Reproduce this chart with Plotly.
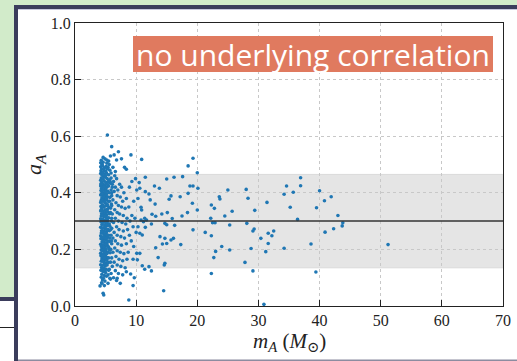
import plotly.graph_objects as go

# ---- data (m_A in solar masses, a_A spin) ----
core_points = [
    (4.3,0.515),(4.6,0.508),(4.9,0.52),(5.2,0.505),(4.4,0.5),(5.5,0.512),
    (4.2,0.492),(4.5,0.496),(4.8,0.488),(5.1,0.494),(5.4,0.49),(4.35,0.485),
    (4.25,0.478),(4.7,0.482),(5.0,0.476),(5.3,0.484),(5.7,0.48),(4.55,0.472),
    (4.2,0.468),(4.45,0.462),(4.9,0.466),(5.15,0.47),(5.5,0.464),(4.7,0.458),
    (4.3,0.452),(4.6,0.448),(4.95,0.455),(5.25,0.45),(5.6,0.446),(5.9,0.452),(4.2,0.444),
    (4.4,0.438),(4.8,0.441),(5.1,0.436),(5.45,0.44),(4.25,0.432),(4.65,0.43),(5.8,0.434),
    (4.2,0.424),(4.55,0.422),(4.9,0.426),(5.2,0.42),(5.5,0.424),(4.35,0.416),(5.0,0.414),(6.1,0.42),
    (4.25,0.408),(4.7,0.41),(5.35,0.406),(4.45,0.402),(4.85,0.398),(5.6,0.4),(5.15,0.396),
    (4.2,0.392),(4.6,0.39),(5.0,0.388),(5.3,0.386),(4.4,0.382),(4.8,0.38),(5.7,0.384),(6.0,0.39),
    (4.3,0.374),(4.65,0.372),(5.1,0.376),(5.45,0.37),(4.2,0.366),(4.95,0.364),(5.25,0.36),(4.5,0.358),
    (4.25,0.352),(4.75,0.35),(5.05,0.354),(5.55,0.348),(4.4,0.344),(4.9,0.34),(5.3,0.342),(5.85,0.346),
    (4.2,0.336),(4.6,0.334),(5.0,0.33),(5.4,0.332),(4.35,0.326),(4.8,0.324),(5.2,0.322),(5.65,0.326),
    (4.3,0.318),(4.7,0.316),(5.1,0.314),(5.5,0.312),(4.2,0.308),(4.55,0.306),(4.95,0.304),(5.35,0.302),(6.0,0.31),
    (4.25,0.298),(4.65,0.296),(5.05,0.294),(5.45,0.29),(4.4,0.288),(4.85,0.286),(5.25,0.284),(5.7,0.282),
    (4.2,0.278),(4.6,0.276),(5.0,0.272),(5.4,0.27),(4.35,0.266),(4.75,0.264),(5.15,0.262),(5.6,0.266),
    (4.3,0.258),(4.7,0.254),(5.1,0.256),(5.5,0.25),(4.2,0.248),(4.55,0.244),(4.9,0.246),(5.3,0.242),(5.9,0.25),
    (4.25,0.238),(4.65,0.236),(5.0,0.234),(5.35,0.23),(4.45,0.226),(4.85,0.224),(5.2,0.222),(5.65,0.228),
    (4.2,0.218),(4.6,0.216),(4.95,0.212),(5.3,0.214),(4.4,0.206),(4.8,0.204),(5.1,0.202),(5.5,0.208),
    (4.3,0.198),(4.7,0.196),(5.05,0.194),(5.4,0.19),(4.2,0.186),(4.55,0.184),(4.9,0.182),(5.75,0.188),
    (4.25,0.178),(4.65,0.174),(5.0,0.176),(5.3,0.17),(4.4,0.166),(4.85,0.164),(5.15,0.162),
    (4.3,0.158),(4.7,0.156),(5.05,0.152),(5.45,0.154),(4.2,0.146),(4.55,0.144),(4.95,0.142),
    (4.35,0.136),(4.75,0.134),(5.1,0.13),(4.25,0.126),(4.6,0.122),(5.0,0.118),(5.5,0.126),
    (4.4,0.112),(4.8,0.108),(4.3,0.102),(4.65,0.098),(5.15,0.105),
    (4.5,0.092),(4.9,0.088),(4.35,0.082),
    (4.5,0.47),(5.0,0.46),(4.3,0.43),(4.75,0.42),(5.3,0.43),(4.55,0.41),(5.0,0.405),(4.3,0.395),
    (4.75,0.385),(5.15,0.38),(4.45,0.37),(4.85,0.368),(5.35,0.355),(4.55,0.355),(4.3,0.34),(5.15,0.338),
    (4.5,0.32),(4.9,0.318),(5.25,0.31),(4.4,0.3),(4.8,0.3),(5.2,0.295),(4.5,0.275),(4.9,0.278),
    (5.25,0.27),(4.45,0.26),(4.85,0.258),(5.2,0.25),(4.35,0.24),(4.75,0.244),(5.1,0.24),(4.5,0.228),
    (4.3,0.212),(4.7,0.21),(5.05,0.218),(4.45,0.196),(4.85,0.19),(5.2,0.185),(4.4,0.175),(4.8,0.17),
    (4.5,0.16),(4.85,0.15),(5.25,0.145),(4.45,0.13),(4.85,0.125),
    (5.3,0.604),(6.0,0.563),(7.1,0.545),(6.4,0.534),(4.6,0.525),(5.2,0.516),(6.8,0.516),(4.2,0.506),
    (6.6,0.475),(4.4,0.08),(4.8,0.072),(4.6,0.045),(5.4,0.08),(5.7,0.098),(6.9,0.098),(4.1,0.071),(4.7,0.039),
    (5.6,0.5),(5.75,0.44),(5.9,0.41),(5.65,0.37),(5.95,0.36),(5.8,0.33),(5.95,0.3),(5.6,0.29),
    (5.85,0.27),(5.7,0.24),(5.95,0.23),(5.6,0.2),(5.85,0.2),(5.5,0.17),(5.8,0.155),(5.6,0.13),(5.4,0.11),
]

spread_points = [
    (5.8,0.53),(6.2,0.49),(6.5,0.46),(5.9,0.47),(6.3,0.44),(6.8,0.45),(7.3,0.43),(6.1,0.43),
    (6.6,0.42),(7.0,0.41),(7.6,0.42),(8.0,0.40),(6.0,0.40),(6.4,0.405),(6.9,0.39),(7.4,0.385),
    (7.8,0.37),(8.4,0.38),(6.2,0.375),(6.7,0.365),(7.1,0.355),(7.6,0.35),(8.2,0.345),(8.8,0.35),
    (6.0,0.355),(6.5,0.34),(6.9,0.33),(7.3,0.325),(7.9,0.32),(8.5,0.31),(9.3,0.32),(6.1,0.325),
    (6.6,0.31),(7.1,0.3),(7.7,0.295),(8.3,0.29),(9.0,0.3),(6.3,0.295),(6.8,0.28),(7.2,0.27),
    (7.9,0.265),(8.6,0.27),(9.5,0.28),(6.0,0.275),(6.4,0.26),(6.9,0.25),(7.5,0.245),(8.1,0.24),
    (8.9,0.25),(6.2,0.24),(6.6,0.23),(7.0,0.22),(7.6,0.215),(8.4,0.22),(9.2,0.23),(6.0,0.22),
    (6.5,0.205),(6.9,0.195),(7.4,0.19),(8.0,0.185),(8.7,0.19),(6.2,0.19),(6.7,0.175),(7.2,0.165),
    (7.8,0.16),(8.5,0.165),(6.0,0.17),(6.4,0.155),(6.9,0.145),(7.5,0.14),(8.2,0.135),(6.1,0.14),
    (6.6,0.125),(7.1,0.115),(7.8,0.11),(5.9,0.115),(6.3,0.1),(5.8,0.095),(6.8,0.09),(7.4,0.08),
    (9.7,0.1),(8.1,0.49),(7.6,0.52),(9.3,0.44),(8.9,0.42),(9.6,0.37),(9.8,0.31),(10.0,0.26),
    (9.6,0.21),(10.3,0.38),(9.9,0.45),
]

outer_points = [
    (9.15,0.534),(10.9,0.518),(8.4,0.483),(18.5,0.495),(19.3,0.522),(11.5,0.455),(15.0,0.449),
    (16.2,0.455),(17.6,0.457),(10.5,0.436),(13.0,0.424),(13.8,0.416),(10.1,0.41),(10.6,0.416),
    (11.5,0.404),(12.1,0.396),(15.7,0.389),(15.4,0.377),(17.2,0.386),(18.5,0.398),(18.8,0.424),
    (19.3,0.424),(12.3,0.375),(13.1,0.36),(10.8,0.349),(10.9,0.339),(14.2,0.325),(15.1,0.33),
    (15.9,0.309),(17.5,0.318),(18.4,0.33),(12.6,0.324),(13.2,0.317),(11.4,0.31),(11.7,0.304),
    (10.8,0.304),(11.2,0.298),(14.7,0.292),(15.0,0.287),(16.3,0.285),(19.3,0.269),(10.3,0.28),
    (11.5,0.278),(12.5,0.29),(10.6,0.257),(11.0,0.251),(13.9,0.245),(14.7,0.239),(16.1,0.239),
    (15.7,0.233),(15.0,0.221),(14.3,0.219),(17.3,0.217),(13.2,0.206),(10.1,0.186),(10.6,0.186),
    (13.6,0.171),(9.5,0.165),(10.2,0.163),(14.7,0.151),(14.6,0.145),(11.0,0.142),(12.1,0.139),
    (11.4,0.13),(12.5,0.124),(8.4,0.121),(9.1,0.113),(9.5,0.072),(14.5,0.054),(8.8,0.021),
    (20.0,0.471),(20.1,0.416),(25.0,0.41),(28.0,0.412),(23.6,0.386),(23.7,0.378),(28.3,0.381),
    (31.4,0.366),(19.2,0.363),(22.3,0.357),(22.8,0.345),(20.0,0.339),(25.7,0.335),(29.4,0.338),
    (24.5,0.318),(22.2,0.31),(22.5,0.294),(22.9,0.294),(25.3,0.286),(28.1,0.292),(29.3,0.272),
    (29.1,0.265),(21.3,0.26),(31.6,0.257),(32.2,0.248),(32.5,0.265),(22.3,0.248),(30.4,0.239),
    (31.6,0.221),(24.0,0.21),(28.8,0.203),(25.3,0.198),(23.0,0.193),(31.2,0.192),(22.7,0.171),
    (27.8,0.154),(29.1,0.124),(22.3,0.115),(30.9,0.006),
    (36.9,0.453),(34.6,0.424),(36.9,0.425),(35.7,0.402),(34.2,0.395),(40.0,0.407),(41.9,0.386),
    (40.8,0.372),(35.2,0.349),(39.5,0.347),(43.0,0.32),(36.4,0.306),(43.8,0.294),(43.7,0.283),
    (42.3,0.273),(40.9,0.261),(38.6,0.219),(34.2,0.204),(39.4,0.12),(51.2,0.217),
]

mean_spin = 0.3
band_low, band_high = 0.135, 0.465
x_ticks = [0, 10, 20, 30, 40, 50, 60, 70]
y_ticks = [0.0, 0.2, 0.4, 0.6, 0.8, 1.0]
y_tick_labels = ["0.0", "0.2", "0.4", "0.6", "0.8", "1.0"]
label_text = "no underlying correlation"

all_points = core_points + spread_points + outer_points
mass = [p[0] for p in all_points]
spin = [p[1] for p in all_points]

# ---- layout geometry (pixels) ----
W, H = 517, 361
L, R, T, B = 75, 503, 23, 306


def px(X):
    return (X - L) / (R - L)


def py(Y):
    return (B - Y) / (B - T)


GREEN = "#d2ebca"
NAVY = "#3b3d5c"

fig = go.Figure()
fig.add_trace(go.Scatter(
    x=mass, y=spin, mode="markers",
    marker=dict(size=3.6, color="#1f77b4", line=dict(width=0)),
    hoverinfo="skip", showlegend=False,
))

shapes = [
    # slide decoration
    dict(type="rect", xref="paper", yref="paper", x0=px(0), x1=px(W), y0=py(5), y1=py(0),
         fillcolor=GREEN, line=dict(width=0), layer="below"),
    dict(type="rect", xref="paper", yref="paper", x0=px(0), x1=px(14), y0=py(297), y1=py(0),
         fillcolor=GREEN, line=dict(width=0), layer="below"),
    dict(type="rect", xref="paper", yref="paper", x0=px(14), x1=px(W), y0=py(9), y1=py(5),
         fillcolor=NAVY, line=dict(width=0), layer="below"),
    dict(type="rect", xref="paper", yref="paper", x0=px(18), x1=px(W), y0=py(10), y1=py(9),
         fillcolor="#c9c9de", line=dict(width=0), layer="below"),
    dict(type="rect", xref="paper", yref="paper", x0=px(14), x1=px(18), y0=py(H), y1=py(5),
         fillcolor=NAVY, line=dict(width=0), layer="below"),
    dict(type="rect", xref="paper", yref="paper", x0=px(0), x1=px(14), y0=py(301), y1=py(297),
         fillcolor=NAVY, line=dict(width=0), layer="below"),
    dict(type="rect", xref="paper", yref="paper", x0=px(0), x1=px(14), y0=py(328), y1=py(327),
         fillcolor="#222222", line=dict(width=0), layer="below"),
    dict(type="rect", xref="paper", yref="paper", x0=px(18), x1=px(W), y0=py(H), y1=py(359.5),
         fillcolor="#8c8ca0", line=dict(width=0), layer="below"),
    # shaded band
    dict(type="rect", xref="paper", yref="y", x0=0, x1=1, y0=band_low, y1=band_high,
         fillcolor="#e5e5e5", line=dict(width=1, color="#dadada"), layer="below"),
    # mean line
    dict(type="line", xref="paper", yref="y", x0=0, x1=1, y0=mean_spin, y1=mean_spin,
         line=dict(width=1.5, color="#333333"), layer="above"),
    # label box
    dict(type="rect", xref="paper", yref="paper", x0=px(133), x1=px(493), y0=py(72), y1=py(36),
         fillcolor="#e07a5f", line=dict(width=0), layer="above"),
]

tick_font = dict(family="Liberation Serif, DejaVu Serif, serif", size=16, color="#222222")
axis_common = dict(
    showline=True, linecolor="#222222", linewidth=1.2, mirror=True,
    ticks="inside", ticklen=6, tickwidth=1, tickcolor="#222222",
    showgrid=True, gridcolor="#c8c8c8", gridwidth=1, griddash="dot",
    zeroline=False, tickfont=tick_font, automargin=False,
)

fig.update_layout(
    width=W, height=H, autosize=False,
    margin=dict(l=L, r=W - R, t=T, b=H - B),
    paper_bgcolor="white", plot_bgcolor="white",
    shapes=shapes,
    xaxis=dict(range=[0, 70], tickvals=x_ticks, ticktext=[str(v) for v in x_ticks], **axis_common),
    yaxis=dict(range=[0, 1], tickvals=y_ticks, ticktext=y_tick_labels, **axis_common),
    annotations=[
        dict(text=label_text, xref="paper", yref="paper", x=px(313), y=py(54),
             xanchor="center", yanchor="middle", showarrow=False,
             font=dict(family="Open Sans, sans-serif", size=30, color="white")),
        dict(text="<i>a</i><sub><i>A</i></sub>", xref="paper", yref="paper",
             x=px(35), y=py(165), xanchor="center", yanchor="middle", textangle=-90,
             showarrow=False, font=dict(family="Liberation Serif, DejaVu Serif, serif", size=22, color="#222222")),
        dict(text="<i>m</i><sub><i>A</i></sub> (<i>M</i><sub>⊙</sub>)", xref="paper", yref="paper",
             x=px(289), y=py(342), xanchor="center", yanchor="middle",
             showarrow=False, font=dict(family="Liberation Serif, DejaVu Serif, serif", size=21, color="#222222")),
    ],
)

fig.write_html("out.html")
